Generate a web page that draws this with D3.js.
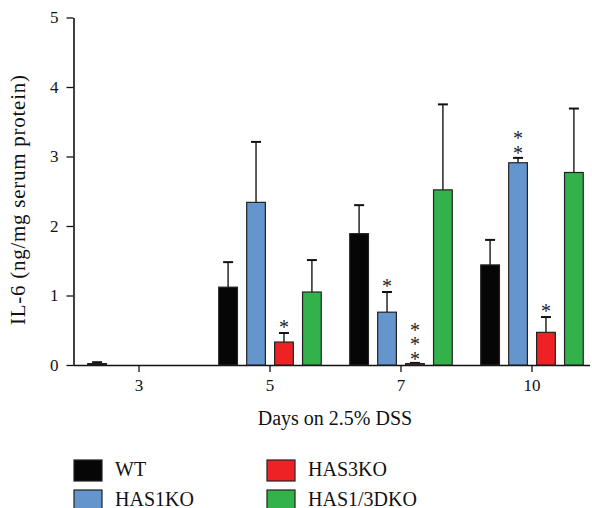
<!DOCTYPE html>
<html>
<head>
<meta charset="utf-8">
<script src="https://cdnjs.cloudflare.com/ajax/libs/d3/7.8.5/d3.min.js"></script>
<style>
  body { margin: 0; background: #fff; }
  svg { display: block; }
  .stars { writing-mode: vertical-rl; text-orientation: upright; }
</style>
</head>
<body>
<script>
const days = ["3", "5", "7", "10"];
const groups = ["WT", "HAS1KO", "HAS3KO", "HAS1/3DKO"];
const colors = ["#060606", "#6496cd", "#ee2224", "#33b24b"];

// mean values per group, one entry per day (null = not shown)
const wt       = [0.02, 1.12, 1.89, 1.44];
const has1ko   = [null, 2.34, 0.76, 2.91];
const has3ko   = [null, 0.33, 0.02, 0.47];
const has13dko = [null, 1.05, 2.52, 2.77];

// upper error (top of whisker)
const wtErr       = [0.04, 1.48, 2.30, 1.80];
const has1koErr   = [null, 3.21, 1.05, 2.98];
const has3koErr   = [null, 0.46, 0.03, 0.69];
const has13dkoErr = [null, 1.51, 3.75, 3.69];

// number of stars over each bar
const has1koStars = [0, 0, 1, 2];
const has3koStars = [0, 1, 3, 1];

const yTicks = [0, 1, 2, 3, 4, 5];

const values = [wt, has1ko, has3ko, has13dko];
const errs = [wtErr, has1koErr, has3koErr, has13dkoErr];
const stars = [null, has1koStars, has3koStars, null];

const rows = [];
days.forEach((d, i) => {
  groups.forEach((g, j) => {
    if (values[j][i] !== null) {
      rows.push({ day: d, group: g, color: colors[j], v: values[j][i], e: errs[j][i],
                  s: stars[j] ? stars[j][i] : 0 });
    }
  });
});

const serif = "'Liberation Serif', 'Times New Roman', serif";
const width = 592, height = 508;
const svg = d3.select("body").append("svg")
    .attr("width", width)
    .attr("height", height)
    .attr("font-family", serif);

const x = d3.scaleBand()
    .domain(days)
    .range([73.5, 597.5])
    .padding(0);

const xi = d3.scaleBand()
    .domain(groups)
    .range([-56, 56])
    .paddingInner(0.33)
    .paddingOuter(0.17);

const y = d3.scaleLinear()
    .domain([0, 5])
    .range([365, 17.5]);

// x axis
const xAxis = svg.append("g")
    .attr("transform", "translate(0,365)")
    .call(d3.axisBottom(x).tickSize(7).tickPadding(7).tickSizeOuter(0));
xAxis.attr("font-family", serif).attr("font-size", 17);
xAxis.select(".domain").attr("stroke", "#111").attr("stroke-width", 1.6)
    .attr("d", "M73.5,0.5H590");
xAxis.selectAll(".tick line").attr("stroke", "#111").attr("stroke-width", 1.3);
xAxis.selectAll(".tick text").attr("fill", "#111");

// y axis
const yAxis = svg.append("g")
    .attr("transform", "translate(73.5,0)")
    .call(d3.axisLeft(y).tickValues(yTicks).tickFormat(d3.format("d"))
      .tickSize(7).tickPadding(8).tickSizeOuter(0));
yAxis.attr("font-family", serif).attr("font-size", 17);
yAxis.select(".domain").attr("stroke", "#111").attr("stroke-width", 1.6);
yAxis.selectAll(".tick line").attr("stroke", "#111").attr("stroke-width", 1.3);
yAxis.selectAll(".tick text").attr("fill", "#111");

const bx = d => x(d.day) + x.bandwidth() / 2 + xi(d.group);
const cx = d => bx(d) + xi.bandwidth() / 2;

// error whiskers
svg.append("g").selectAll("line")
    .data(rows)
    .join("line")
    .attr("x1", cx).attr("x2", cx)
    .attr("y1", d => y(d.v)).attr("y2", d => y(d.e))
    .attr("stroke", "#333").attr("stroke-width", 1.6);
svg.append("g").selectAll("line")
    .data(rows)
    .join("line")
    .attr("x1", d => cx(d) - 5).attr("x2", d => cx(d) + 5)
    .attr("y1", d => y(d.e)).attr("y2", d => y(d.e))
    .attr("stroke", "#111").attr("stroke-width", 2);

// bars
svg.append("g").selectAll("rect")
    .data(rows)
    .join("rect")
    .attr("x", bx)
    .attr("y", d => y(d.v))
    .attr("width", xi.bandwidth())
    .attr("height", d => y(0) - y(d.v))
    .attr("fill", d => d.color)
    .attr("stroke", "#222")
    .attr("stroke-width", 1.2);

// significance stars, stacked vertically in one text each
svg.append("g").selectAll("text")
    .data(rows.filter(d => d.s > 0))
    .join("text")
    .attr("class", "stars")
    .attr("x", cx)
    .attr("y", d => y(d.e) - 10 - (d.s - 1) * 12.5 / 2)
    .attr("text-anchor", "middle")
    .attr("font-size", 20)
    .attr("letter-spacing", -7.5)
    .attr("fill", "#222")
    .text(d => "*".repeat(d.s));

// axis titles
svg.append("text")
    .attr("x", 335)
    .attr("y", 425)
    .attr("text-anchor", "middle")
    .attr("font-size", 20)
    .attr("fill", "#111")
    .text("Days on 2.5% DSS");

svg.append("text")
    .attr("transform", "translate(25,200) rotate(-90)")
    .attr("text-anchor", "middle")
    .attr("font-size", 21)
    .attr("fill", "#111")
    .attr("textLength", 250)
    .attr("lengthAdjust", "spacing")
    .text("IL-6 (ng/mg serum protein)");

// legend
const legPos = [[74, 460], [74, 490], [267, 460], [267, 490]];
const leg = svg.append("g").selectAll("g")
    .data(groups)
    .join("g")
    .attr("transform", (d, i) => `translate(${legPos[i][0]},${legPos[i][1]})`);
leg.append("rect")
    .attr("width", 28).attr("height", 21)
    .attr("fill", (d, i) => colors[i])
    .attr("stroke", "#222").attr("stroke-width", 1.2);
leg.append("text")
    .attr("x", 41).attr("y", 15.5)
    .attr("font-size", 20)
    .attr("fill", "#111")
    .text(d => d);
</script>
</body>
</html>
